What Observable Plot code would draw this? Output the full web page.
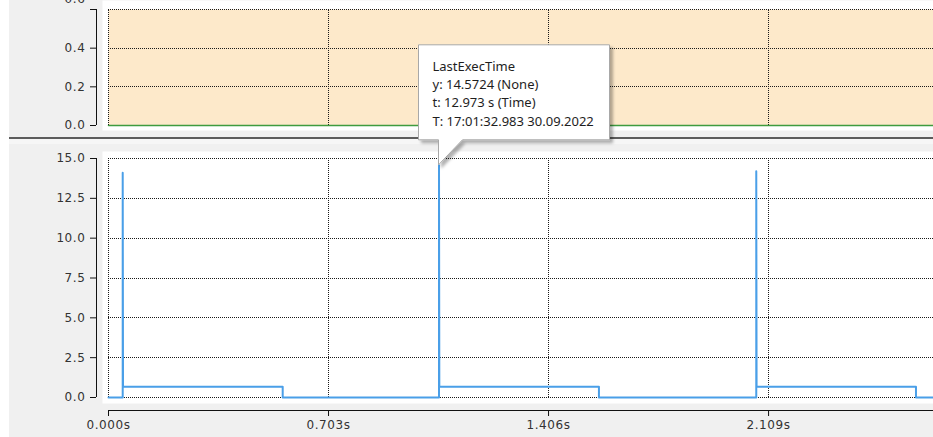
<!DOCTYPE html>
<html><head><meta charset="utf-8">
<script src="https://cdn.jsdelivr.net/npm/d3@7"></script>
<script src="https://cdn.jsdelivr.net/npm/@observablehq/plot@0.6"></script>
<style>
html,body{margin:0;padding:0;background:#f0f0f0;}
#chart{position:relative;width:933px;height:437px;overflow:hidden;background:#f0f0f0;}
#chart > *{position:absolute;}
</style></head>
<body><div id="chart"></div>
<script>
// ---- data ----
const xTicks = [0, 0.703, 1.406, 2.109];
const xMax = 2.636;
const topYTicks = [0, 0.2, 0.4, 0.6];
const bottomYTicks = [0, 2.5, 5, 7.5, 10, 12.5, 15];
// green series (top panel)
const greenT = [0, 2.636];
const greenY = [0, 0];
// LastExecTime series (bottom panel)
const blueT = [0, 0.0454, 0.0454, 0.0464, 0.5566, 0.5566, 1.056, 1.056, 1.057, 1.567, 1.567, 2.0697, 2.0697, 2.0707, 2.580, 2.580, 2.636];
const blueY = [0, 0, 14.1, 0.68, 0.68, 0, 0, 14.5724, 0.68, 0.68, 0, 0, 14.2, 0.68, 0.68, 0, 0];
// tooltip
const tooltipLines = ["LastExecTime", "y: 14.5724 (None)", "t: 12.973 s (Time)", "T: 17:01:32.983 30.09.2022"];
const peakT = 1.056, peakY = 14.5724;

const greenData = greenT.map((t, i) => ({t, y: greenY[i]}));
const blueData = blueT.map((t, i) => ({t, y: blueY[i]}));

const chart = document.getElementById("chart");
const baseStyle = {background: "transparent", fontFamily: "DejaVu Sans", fontSize: "12px", letterSpacing: "0.6px", color: "#333", overflow: "visible"};
const grid = {stroke: "#1a1a1a", strokeDasharray: "1,1", strokeWidth: 1, shapeRendering: "crispEdges"};

// white strip on the far left
const strip = document.createElement("div");
strip.style.cssText = "left:0;top:0;width:9px;height:437px;background:#fff;";
chart.appendChild(strip);

// ---- top panel ----
const topPlot = Plot.plot({
  width: 933, height: 136,
  marginLeft: 96, marginRight: 0, marginTop: 9, marginBottom: 11,
  style: baseStyle,
  x: {domain: [0, xMax], range: [108, 933], axis: null},
  y: {domain: [0, 0.6], range: [125, 9], axis: null},
  marks: [
    Plot.frame({fill: "#ffffff", stroke: null, insetLeft: 6, insetTop: -9, insetBottom: -5}),
    Plot.frame({fill: "#fde9ca", stroke: null, insetLeft: 12}),
    Plot.ruleY(topYTicks, {x1: 0, x2: xMax, ...grid}),
    Plot.ruleX(xTicks, {y1: 0, y2: 0.6, ...grid}),
    Plot.line(greenData, {x: "t", y: "y", stroke: "#3f9b3f", strokeWidth: 1.5}),
    Plot.ruleX([0], {y1: 0, y2: 0.6, dx: -12, stroke: "#111", strokeWidth: 1, shapeRendering: "crispEdges"}),
    Plot.axisY(topYTicks, {anchor: "left", label: null, tickSize: 6, tickPadding: 5, stroke: "#111",
      tickFormat: d => d === 0.6 ? "" : d.toFixed(1)}),
    Plot.text(topYTicks.filter(d => d === 0.6), {y: d => d, text: d => d.toFixed(1), frameAnchor: "left",
      dx: -11, dy: -10, textAnchor: "end", fill: "#333"})
  ]
});
topPlot.style.left = "0px"; topPlot.style.top = "0px";
chart.appendChild(topPlot);

// separator
const sep = document.createElement("div");
sep.style.cssText = "left:9px;top:137px;width:924px;height:2px;background:#5c5c5c;";
chart.appendChild(sep);
const sepLight = document.createElement("div");
sepLight.style.cssText = "left:9px;top:139px;width:924px;height:5px;background:#f6f6f6;";
chart.appendChild(sepLight);

// ---- bottom panel ----
const bottomPlot = Plot.plot({
  width: 933, height: 292,
  marginLeft: 96, marginRight: 0, marginTop: 13, marginBottom: 27,
  style: baseStyle,
  x: {domain: [0, xMax], range: [108, 933], axis: null},
  y: {domain: [0, 15], range: [252, 13], axis: null},
  marks: [
    Plot.frame({fill: "#ffffff", stroke: null, insetLeft: 6, insetTop: -7, insetBottom: 7}),
    Plot.ruleY(bottomYTicks, {x1: 0, x2: xMax, ...grid}),
    Plot.ruleX(xTicks, {y1: 0, y2: 15, ...grid}),
    Plot.line(blueData, {x: "t", y: "y", stroke: "#4a9fe8", strokeWidth: 2, curve: "linear"}),
    Plot.ruleX([0], {y1: 0, y2: 15, dx: -12, stroke: "#111", strokeWidth: 1, shapeRendering: "crispEdges"}),
    Plot.axisY(bottomYTicks, {anchor: "left", label: null, tickSize: 6, tickPadding: 5, stroke: "#111", tickFormat: d => d.toFixed(1)}),
    Plot.ruleY([0], {x1: 0, x2: xMax, dy: 13, stroke: "#111", strokeWidth: 1, shapeRendering: "crispEdges"}),
    Plot.axisX(xTicks, {anchor: "bottom", label: null, tickSize: 6, tickPadding: 4, stroke: "#111", tickFormat: d => d.toFixed(3) + "s"})
  ]
});
bottomPlot.style.left = "0px"; bottomPlot.style.top = "145px";
chart.appendChild(bottomPlot);

// ---- tooltip callout anchored to the peak via the plot's scales ----
const sx = bottomPlot.scale("x"), sy = bottomPlot.scale("y");
const fx = sx.apply ? (v => sx.apply(v)) : d3.scaleLinear(sx.domain, sx.range);
const fy = sy.apply ? (v => sy.apply(v)) : d3.scaleLinear(sy.domain, sy.range);
const px = fx(peakT), py = 145 + fy(peakY);
const bx = px - 20, by = py - 120, bw = 191, bh = 95;

const ov = d3.create("svg").attr("width", 933).attr("height", 437)
  .style("left", "0px").style("top", "0px").style("pointer-events", "none");
const defs = ov.append("defs");
const f = defs.append("filter").attr("id", "sh").attr("x", "-10%").attr("y", "-10%").attr("width", "130%").attr("height", "140%");
f.append("feDropShadow").attr("dx", 3).attr("dy", 3).attr("stdDeviation", 1.5).attr("flood-color", "#000").attr("flood-opacity", 0.3);
const path = `M${bx},${by}H${bx + bw}V${by + bh}H${px + 24}L${px},${py}V${by + bh}H${bx}Z`;
ov.append("path").attr("d", path).attr("fill", "#fff").attr("stroke", "#a8a8a8").attr("stroke-width", 1)
  .attr("filter", "url(#sh)");
ov.append("g").selectAll("text").data(tooltipLines).join("text")
  .attr("x", bx + 14).attr("y", (d, i) => by + 26 + i * 18.3)
  .attr("font-family", "Noto Sans").attr("font-size", 13).attr("fill", "#1e1e1e")
  .text(d => d);
chart.appendChild(ov.node());
</script>
</body></html>
